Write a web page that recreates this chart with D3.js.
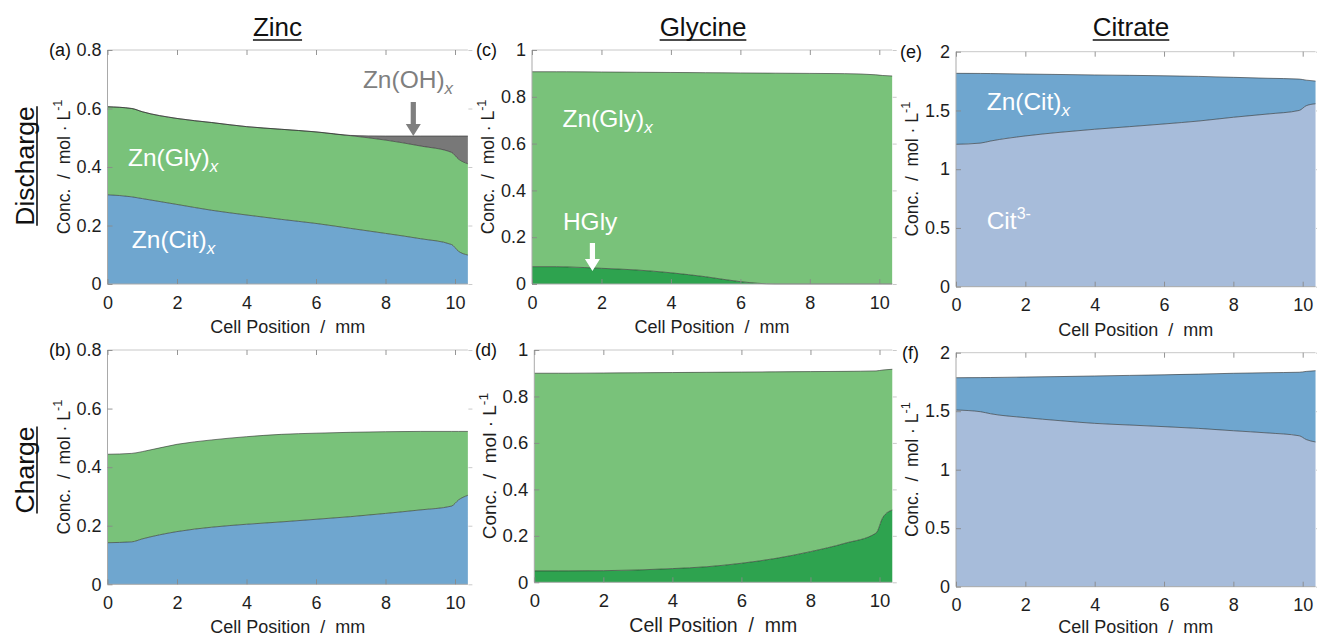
<!DOCTYPE html>
<html><head><meta charset="utf-8">
<script src="https://cdn.jsdelivr.net/npm/d3@7"></script>
<style>
body{margin:0;background:#fff}
svg{display:block}
text{font-family:"Liberation Sans",Arial,Helvetica,sans-serif;}
</style>
</head><body>
<svg id="chart" width="1317" height="638"></svg>
<script>
// ---------------- DATA ----------------
const position = [0, 0.7, 1, 2, 3, 4, 5, 6, 7, 8, 9, 9.9, 10.1, 10.37]; // mm
const xTickValues = [0, 2, 4, 6, 8, 10];
const yTicksZinc = [0, 0.2, 0.4, 0.6, 0.8];
const yTicksGlycine = [0, 0.2, 0.4, 0.6, 0.8, 1];
const yTicksCitrate = [0, 0.5, 1, 1.5, 2];
const columnTitles = ["Zinc", "Glycine", "Citrate"];
const rowTitles = ["Discharge", "Charge"];
const panelTags = ["(a)", "(b)", "(c)", "(d)", "(e)", "(f)"];
const xAxisTitle = "Cell Position  /  mm";
const yAxisTitle = "Conc.  /  mol · L";

// (a) Discharge – Zinc (stacked: Zn(Cit)x, Zn(Gly)x, Zn(OH)x)
const dischargeZinc_ZnCit = [0.305, 0.298, 0.292, 0.272, 0.252, 0.236, 0.221, 0.207, 0.190, 0.173, 0.155, 0.135, 0.112, 0.099];
const dischargeZinc_ZnGly = [0.301, 0.302, 0.297, 0.294, 0.300, 0.302, 0.308, 0.313, 0.317, 0.319, 0.317, 0.315, 0.315, 0.312];
const dischargeZinc_ZnOH  = [0, 0, 0, 0, 0, 0, 0, 0, 0.001, 0.014, 0.034, 0.056, 0.079, 0.095];
// (b) Charge – Zinc
const chargeZinc_ZnCit = [0.142, 0.145, 0.155, 0.180, 0.195, 0.205, 0.213, 0.222, 0.231, 0.242, 0.254, 0.267, 0.288, 0.304];
const chargeZinc_ZnGly = [0.302, 0.302, 0.298, 0.298, 0.298, 0.299, 0.299, 0.294, 0.288, 0.279, 0.268, 0.255, 0.234, 0.218];
// (c) Discharge – Glycine (stacked: HGly, Zn(Gly)x)
const dischargeGly_HGly  = [0.074, 0.074, 0.073, 0.067, 0.060, 0.048, 0.031, 0.010, 0, 0, 0, 0, 0, 0];
const dischargeGly_ZnGly = [0.833, 0.833, 0.834, 0.839, 0.845, 0.856, 0.872, 0.892, 0.901, 0.900, 0.899, 0.894, 0.891, 0.889];
// (d) Charge – Glycine
const chargeGly_HGly  = [0.049, 0.049, 0.049, 0.050, 0.053, 0.059, 0.067, 0.082, 0.103, 0.132, 0.168, 0.212, 0.280, 0.311];
const chargeGly_ZnGly = [0.851, 0.851, 0.851, 0.851, 0.849, 0.844, 0.837, 0.823, 0.803, 0.775, 0.740, 0.698, 0.634, 0.606];
// (e) Discharge – Citrate (stacked: Cit3-, Zn(Cit)x)
const dischargeCit_Cit   = [1.212, 1.222, 1.240, 1.283, 1.314, 1.340, 1.362, 1.385, 1.410, 1.442, 1.470, 1.500, 1.540, 1.557];
const dischargeCit_ZnCit = [0.604, 0.593, 0.574, 0.527, 0.492, 0.462, 0.437, 0.410, 0.380, 0.340, 0.304, 0.267, 0.218, 0.193];
// (f) Charge – Citrate
const chargeCit_Cit   = [1.510, 1.496, 1.478, 1.445, 1.419, 1.396, 1.382, 1.368, 1.353, 1.333, 1.314, 1.290, 1.258, 1.237];
const chargeCit_ZnCit = [0.276, 0.291, 0.310, 0.347, 0.377, 0.405, 0.424, 0.443, 0.464, 0.491, 0.515, 0.543, 0.582, 0.609];

const colors = {ZnCit: "#6fa6cf", ZnGly: "#79c27a", ZnOH: "#787878", HGly: "#2ea34f", Cit: "#a7bcda"};

// ---------------- LAYOUT ----------------
const panels = [
  {tag: panelTags[0], tagX: 49, left: 107.5, top: 50, bottom: 284, pxmm: 34.75, ymax: 0.8, yTicks: yTicksZinc, axisFont: 18, xLabelDy: 49,
   series: [["ZnCit", dischargeZinc_ZnCit], ["ZnGly", dischargeZinc_ZnGly], ["ZnOH", dischargeZinc_ZnOH]],
   notes: [{t: "Zn(Gly)", sub: "x", x: 0.59, y: 0.403, c: "#fff"}, {t: "Zn(Cit)", sub: "x", x: 0.70, y: 0.122, c: "#fff"},
           {t: "Zn(OH)", sub: "x", x: 7.35, y: 0.669, c: "#7f7f7f"}],
   arrows: [{x: 8.8, y1: 0.622, y2: 0.506, c: "#7f7f7f"}]},
  {tag: panelTags[1], tagX: 49, left: 107.5, top: 350, bottom: 584.3, pxmm: 34.75, ymax: 0.8, yTicks: yTicksZinc, axisFont: 18, xLabelDy: 48.5,
   series: [["ZnCit", chargeZinc_ZnCit], ["ZnGly", chargeZinc_ZnGly]], notes: [], arrows: []},
  {tag: panelTags[2], tagX: 476, left: 532, top: 50, bottom: 284, pxmm: 34.73, ymax: 1, yTicks: yTicksGlycine, axisFont: 18, xLabelDy: 49,
   series: [["HGly", dischargeGly_HGly], ["ZnGly", dischargeGly_ZnGly]],
   notes: [{t: "Zn(Gly)", sub: "x", x: 0.88, y: 0.671, c: "#fff"}, {t: "HGly", x: 0.89, y: 0.232, c: "#fff"}],
   arrows: [{x: 1.74, y1: 0.175, y2: 0.056, c: "#fff"}]},
  {tag: panelTags[3], tagX: 475, left: 534.3, top: 350, bottom: 582.3, pxmm: 34.52, ymax: 1, yTicks: yTicksGlycine, axisFont: 19.5, xLabelDy: 49.5,
   series: [["HGly", chargeGly_HGly], ["ZnGly", chargeGly_ZnGly]], notes: [], arrows: []},
  {tag: panelTags[4], tagX: 900, left: 956, top: 51.7, bottom: 286.7, pxmm: 34.67, ymax: 2, yTicks: yTicksCitrate, axisFont: 18, xLabelDy: 49,
   series: [["Cit", dischargeCit_Cit], ["ZnCit", dischargeCit_ZnCit]],
   notes: [{t: "Zn(Cit)", sub: "x", x: 0.885, y: 1.504, c: "#fff"}, {t: "Cit", sup: "3-", x: 0.885, y: 0.49, c: "#fff"}],
   arrows: []},
  {tag: panelTags[5], tagX: 902, left: 956, top: 352.7, bottom: 586.7, pxmm: 34.67, ymax: 2, yTicks: yTicksCitrate, axisFont: 18, xLabelDy: 46.5,
   series: [["Cit", chargeCit_Cit], ["ZnCit", chargeCit_ZnCit]], notes: [], arrows: []}
];

const svg = d3.select("#chart");

function drawPanel(p) {
  const xEnd = 10.5;
  const x = d3.scaleLinear().domain([0, xEnd]).range([p.left, p.left + xEnd * p.pxmm]);
  const y = d3.scaleLinear().domain([0, p.ymax]).range([p.bottom, p.top]);
  const g = svg.append("g");

  const keys = p.series.map(s => s[0]);
  const rows = position.map((pos, i) => {
    const r = {pos};
    p.series.forEach(s => r[s[0]] = s[1][i]);
    return r;
  });
  const layers = d3.stack().keys(keys)(rows);
  const area = d3.area().x(d => x(d.data.pos)).y0(d => y(d[0])).y1(d => y(d[1])).curve(d3.curveMonotoneX);
  const line = d3.line().x(d => x(d.data.pos)).y(d => y(d[1])).curve(d3.curveMonotoneX);

  g.selectAll("path.area").data(layers).join("path")
    .attr("class", "area").attr("d", area).attr("fill", d => colors[d.key]);
  g.selectAll("path.edge").data(layers).join("path")
    .attr("class", "edge").attr("d", line).attr("fill", "none")
    .attr("stroke", "#2b2b2b").attr("stroke-width", 0.8).attr("stroke-opacity", 0.75);

  // box lines
  const boxC = "#a9a9a9";
  g.append("line").attr("x1", x(0)).attr("x2", x(0)).attr("y1", p.top).attr("y2", p.bottom).attr("stroke", boxC);
  g.append("line").attr("x1", x(0)).attr("x2", x(10.37)).attr("y1", p.top).attr("y2", p.top).attr("stroke", "#c8c8c8");
  g.append("line").attr("x1", x(0)).attr("x2", x(10.37)).attr("y1", p.bottom).attr("y2", p.bottom).attr("stroke", boxC);

  const fmt = d => String(d);
  const axB = g.append("g").attr("transform", `translate(0,${p.bottom})`)
    .call(d3.axisBottom(x).tickValues(xTickValues).tickSize(-5).tickPadding(12).tickFormat(fmt));
  const axL = g.append("g").attr("transform", `translate(${x(0)},0)`)
    .call(d3.axisLeft(y).tickValues(p.yTicks).tickSize(-5).tickPadding(6).tickFormat(fmt));
  const axT = g.append("g").attr("transform", `translate(0,${p.top})`)
    .call(d3.axisTop(x).tickValues(xTickValues).tickSize(-5).tickFormat(""));
  const axR = g.append("g").attr("transform", `translate(${x(xEnd)},0)`)
    .call(d3.axisRight(y).tickValues(p.yTicks).tickSize(-4).tickFormat(""));
  [axB, axL, axT].forEach(a => {
    a.select(".domain").remove();
    a.selectAll(".tick line").attr("stroke", "#8a8a8a").attr("stroke-width", 0.9);
    a.selectAll("text").attr("font-size", p.axisFont === 19.5 ? 18.5 : 18).attr("fill", "#1e1e1e")
      .attr("font-family", '"Liberation Sans", Arial, sans-serif');
  });
  axR.select(".domain").remove();
  axR.selectAll(".tick line").attr("stroke", "#c4c4c4").attr("stroke-width", 0.9);

  // axis titles
  const cx = (p.left + x(10.37)) / 2;
  g.append("text").attr("x", cx).attr("y", p.bottom + p.xLabelDy).attr("text-anchor", "middle")
    .attr("font-size", p.axisFont).attr("fill", "#1e1e1e").attr("xml:space", "preserve").style("white-space", "pre")
    .text(xAxisTitle);
  const cy = (p.top + p.bottom) / 2;
  const yt = g.append("text").attr("transform", `translate(${p.left - 38},${cy}) rotate(-90)`)
    .attr("text-anchor", "middle").attr("font-size", p.axisFont - 0.5).attr("fill", "#1e1e1e")
    .attr("xml:space", "preserve").style("white-space", "pre");
  yt.append("tspan").text(yAxisTitle);
  yt.append("tspan").attr("dy", -p.axisFont * 0.42).attr("font-size", p.axisFont * 0.7).text("-1");

  // panel tag
  g.append("text").attr("x", p.tagX).attr("y", p.top + 6).attr("font-size", 18).attr("fill", "#111").text(p.tag);

  // annotations
  p.notes.forEach(n => {
    const t = g.append("text").attr("x", x(n.x)).attr("y", y(n.y)).attr("font-size", 24.5).attr("fill", n.c);
    t.append("tspan").text(n.t);
    if (n.sub) t.append("tspan").attr("dy", 6).attr("font-size", 17).attr("font-style", "italic").text(n.sub);
    if (n.sup) t.append("tspan").attr("dy", -10).attr("font-size", 16).text(n.sup);
  });
  p.arrows.forEach(a => {
    const ax = x(a.x), y1 = y(a.y1), y2 = y(a.y2);
    const hw = 7.5, sw = 2.6, hl = 12;
    const pts = [[ax - sw, y1], [ax + sw, y1], [ax + sw, y2 - hl], [ax + hw, y2 - hl], [ax, y2], [ax - hw, y2 - hl], [ax - sw, y2 - hl]];
    g.append("polygon").attr("points", pts.map(q => q.join(",")).join(" ")).attr("fill", a.c);
  });
}
panels.forEach(drawPanel);

// column titles
const colCenters = [277.5, 703, 1131];
columnTitles.forEach((t, i) => {
  const tx = svg.append("text").attr("x", colCenters[i]).attr("y", 36).attr("text-anchor", "middle")
    .attr("font-size", 26).attr("fill", "#111").text(t);
  const w = tx.node().getComputedTextLength();
  svg.append("line").attr("x1", colCenters[i] - w / 2).attr("x2", colCenters[i] + w / 2)
    .attr("y1", 40).attr("y2", 40).attr("stroke", "#111").attr("stroke-width", 1.6);
});
// row titles
const rowCenters = [166, 470];
rowTitles.forEach((t, i) => {
  const g = svg.append("g").attr("transform", `translate(33.5,${rowCenters[i]}) rotate(-90)`);
  const tx = g.append("text").attr("x", 0).attr("y", 0).attr("text-anchor", "middle")
    .attr("font-size", 26.5).attr("fill", "#111").text(t);
  const w = tx.node().getComputedTextLength();
  g.append("line").attr("x1", -w / 2).attr("x2", w / 2).attr("y1", 3.5).attr("y2", 3.5)
    .attr("stroke", "#111").attr("stroke-width", 1.6);
});
</script>
</body></html>
